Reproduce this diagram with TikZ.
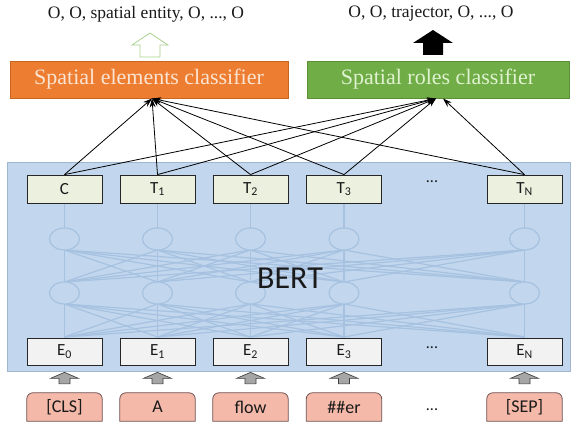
\documentclass[tikz,border=0pt]{standalone}
\usepackage{fontspec}
\setmainfont{Liberation Serif}
\newfontfamily\calfont{Carlito}
\usetikzlibrary{arrows.meta,calc}
\pgfdeclarelayer{bg}
\pgfsetlayers{bg,main}
\definecolor{orangec}{HTML}{ED7D31}
\definecolor{orangeedge}{HTML}{C9651F}
\definecolor{orangetext}{HTML}{FCE4D2}
\definecolor{greenc}{HTML}{70AD47}
\definecolor{greenedge}{HTML}{5A8F38}
\definecolor{greentext}{HTML}{E0F2D0}
\definecolor{hollowc}{HTML}{A9D18E}
\definecolor{bertbg}{HTML}{C2D7EE}
\definecolor{bertborder}{HTML}{9FB6CF}
\definecolor{nnc}{HTML}{A6C2E0}
\definecolor{tfill}{HTML}{EBF1DE}
\definecolor{efill}{HTML}{F2F2F2}
\definecolor{kfill}{HTML}{F4B9A9}
\definecolor{kborder}{HTML}{6E5050}
\definecolor{garrow}{HTML}{A6A6A6}
\definecolor{txt}{HTML}{1A1A1A}
\begin{document}
\begin{tikzpicture}[x=1pt,y=-1pt,
  tbox/.style={draw=black!85, line width=0.8pt, fill=tfill, minimum width=75pt, minimum height=28pt, inner sep=0pt, text=txt, font=\calfont\fontsize{17}{17}\selectfont},
  ebox/.style={tbox, fill=efill, minimum height=27pt},
  kbox/.style={minimum width=75pt, minimum height=28pt, inner sep=0pt, text=txt, font=\calfont\fontsize{18}{18}\selectfont},
  kshape/.style={fill=kfill, draw=kborder, line width=0.8pt},
  conn/.style={-{Stealth[length=9pt,width=6pt]}, line width=0.8pt, black},
  clsbox/.style={minimum height=37pt, inner sep=0pt, line width=0.6pt, font=\fontsize{22}{22}\selectfont},
  toplabel/.style={text=txt, inner sep=0pt, font=\fontsize{17.5}{17.5}\selectfont},
  nn/.style={nnc, line width=1.2pt},
  dots/.style={anchor=base, inner sep=0pt, text=txt, font=\calfont\fontsize{16}{16}\selectfont},
  garrowstyle/.style={fill=garrow, draw=black!75, line width=0.7pt},
]
\useasboundingbox (0,0) rectangle (571,427);

% BERT container
\node[fill=bertbg, draw=bertborder, line width=0.8pt, minimum width=563pt, minimum height=209pt, inner sep=0pt] (bertbox) at (288.5,266.5) {};

% neural net decoration
\foreach \xa in {64.5,157.5,250.5,344,524.5} {
  \draw[nn] (\xa,203) -- (\xa,338);
  \foreach \xb in {64.5,157.5,250.5,344,524.5} {
    \draw[nn] (\xa,250) -- (\xb,282);
    \draw[nn] (\xa,304) -- (\xb,337);
  }
}
\foreach \xa in {64.5,157.5,250.5,344,524.5} {
  \filldraw[nn, fill=bertbg] (\xa,239) ellipse [x radius=15, y radius=11];
  \filldraw[nn, fill=bertbg] (\xa,293) ellipse [x radius=15, y radius=11];
}
\node[font=\calfont\fontsize{32}{32}\selectfont, text=txt, inner sep=0pt] (bert) at (290,278) {BERT};

% output boxes
\node[tbox] (t0) at (64.5,189) {C};
\node[tbox] (t1) at (157.5,189) {T\textsubscript{1}};
\node[tbox] (t2) at (250.5,189) {T\textsubscript{2}};
\node[tbox] (t3) at (344,189) {T\textsubscript{3}};
\node[tbox] (tN) at (524.5,189) {T\textsubscript{N}};
\node[dots] (tdots) at (432,183) {...};

% embedding boxes
\node[ebox] (e0) at (64.5,351.5) {E\textsubscript{0}};
\node[ebox] (e1) at (157.5,351.5) {E\textsubscript{1}};
\node[ebox] (e2) at (250.5,351.5) {E\textsubscript{2}};
\node[ebox] (e3) at (344,351.5) {E\textsubscript{3}};
\node[ebox] (eN) at (524.5,351.5) {E\textsubscript{N}};
\node[dots] (edots) at (432,349) {...};

% tokens
\node[kbox] (k0) at (64.5,407) {[CLS]};
\node[kbox] (k1) at (157.5,407) {A};
\node[kbox] (k2) at (250.5,407) {flow};
\node[kbox] (k3) at (344,407) {\#\#er};
\node[kbox] (kN) at (524.5,407) {[SEP]};
\node[dots] (kdots) at (432,411) {...};
\begin{pgfonlayer}{bg}
\foreach \n in {k0,k1,k2,k3,kN}
  \filldraw[kshape] (\n.south west) [rounded corners=6pt] -- (\n.north west) -- (\n.north east) [sharp corners] -- (\n.south east) -- cycle;
\end{pgfonlayer}

% gray block arrows
\foreach \n in {0,1,2,3,N}
  \filldraw[garrowstyle] ($(e\n.south)+(0,7)$) -- ++(14,6) -- ++(-8.5,0) -- ++(0,5.5) -- ++(-11,0) -- ++(0,-5.5) -- ++(-8.5,0) -- cycle;

% classifiers
\node[clsbox, fill=orangec, draw=orangeedge, minimum width=278pt, text=orangetext] (sec) at (149,79.5) {Spatial elements classifier};
\node[clsbox, fill=greenc, draw=greenedge, minimum width=262pt, text=greentext] (src) at (438,79.5) {Spatial roles classifier};

% output labels
\node[toplabel] (olab) at (146,14) {O, O, spatial entity, O, ..., O};
\node[toplabel] (glab) at (431,14) {O, O, trajector, O, ..., O};

% block arrows above classifiers
\filldraw[fill=white, draw=hollowc, line width=0.8pt] (150,33) -- (168,45) -- (160,45) -- (160,57) -- (140,57) -- (140,45) -- (132,45) -- cycle;
\fill[black] (433,30) -- (453,43) -- (443,43) -- (443,55) -- (423,55) -- (423,43) -- (413,43) -- cycle;

% connectors
\coordinate (oT) at (152,98.5);
\coordinate (gT) at (436,98.5);
\coordinate (gT2) at (443,98.5);
\foreach \n in {t0,t1,t2,t3,tN}
  \draw[conn] (\n.north) -- (oT);
\foreach \n in {t0,t1,t2,t3}
  \draw[conn] (\n.north) -- (gT);
\draw[conn] (tN.north) -- (gT2);
\end{tikzpicture}
\end{document}
